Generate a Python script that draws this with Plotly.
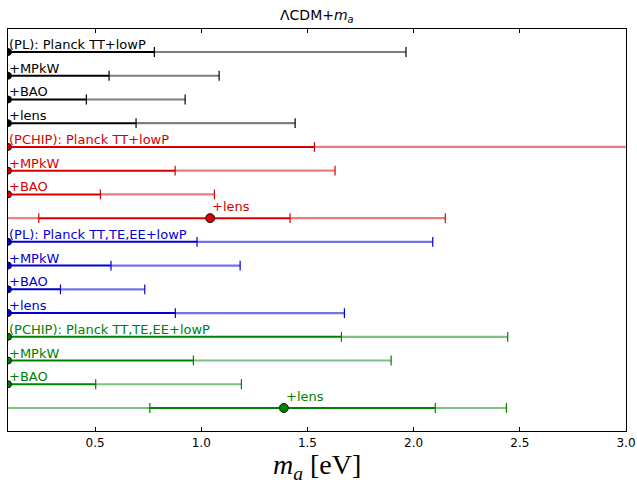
import plotly.graph_objects as go

labels = ["(PL): Planck TT+lowP", "+MPkW", "+BAO", "+lens",
          "(PCHIP): Planck TT+lowP", "+MPkW", "+BAO", "+lens",
          "(PL): Planck TT,TE,EE+lowP", "+MPkW", "+BAO", "+lens",
          "(PCHIP): Planck TT,TE,EE+lowP", "+MPkW", "+BAO", "+lens"]
groups = ["k"] * 4 + ["r"] * 4 + ["b"] * 4 + ["g"] * 4

XMIN = 0.09   # lower prior edge of m_a (eV)
XMAX = 3.0

# best fit / mean (upper-limit rows sit at the prior edge)
best = [0.09, 0.09, 0.09, 0.09,
        0.09, 0.09, 0.09, 1.042,
        0.09, 0.09, 0.09, 0.09,
        0.09, 0.09, 0.09, 1.389]
lo68 = [0.09, 0.09, 0.09, 0.09,
        0.09, 0.09, 0.09, 0.235,
        0.09, 0.09, 0.09, 0.09,
        0.09, 0.09, 0.09, 0.758]
hi68 = [0.779, 0.566, 0.459, 0.693,
        1.533, 0.877, 0.525, 1.418,
        0.980, 0.575, 0.337, 0.878,
        1.660, 0.963, 0.503, 2.102]
lo95 = [0.09] * 16
hi95 = [1.964, 1.084, 0.924, 1.442,
        3.3, 1.630, 1.062, 2.149,
        2.090, 1.183, 0.734, 1.674,
        2.443, 1.894, 1.189, 2.437]
detected = [False] * 7 + [True] + [False] * 7 + [True]

dark = {"k": "rgb(0,0,0)", "r": "rgb(215,0,0)", "b": "rgb(0,0,210)", "g": "rgb(0,128,0)"}
light = {"k": "rgba(0,0,0,0.5)", "r": "rgba(215,0,0,0.5)", "b": "rgba(0,0,210,0.55)", "g": "rgba(0,128,0,0.5)"}

fig = go.Figure()
annotations = []
for i, lab in enumerate(labels):
    y = i + 1
    g = groups[i]
    # 95% (light) segments
    fig.add_trace(go.Scatter(x=[lo95[i], lo68[i], None, hi68[i], hi95[i]],
                             y=[y, y, None, y, y], mode="lines",
                             line=dict(color=light[g], width=2.2),
                             hoverinfo="skip", showlegend=False))
    # 68% (dark) segment
    fig.add_trace(go.Scatter(x=[lo68[i], hi68[i]], y=[y, y], mode="lines",
                             line=dict(color=dark[g], width=2),
                             hoverinfo="skip", showlegend=False))
    # caps
    caps = [hi68[i], hi95[i]]
    if detected[i]:
        caps.append(lo68[i])
    fig.add_trace(go.Scatter(x=caps, y=[y] * len(caps), mode="markers",
                             marker=dict(symbol="line-ns", size=7,
                                         line=dict(color=dark[g], width=1.2)),
                             hoverinfo="skip", showlegend=False))
    # central point
    fig.add_trace(go.Scatter(x=[best[i]], y=[y], mode="markers",
                             marker=dict(symbol="circle", size=9 if detected[i] else 7,
                                         color=dark[g],
                                         line=dict(color="rgb(20,20,20)", width=1)),
                             hoverinfo="skip", showlegend=False))
    annotations.append(dict(x=best[i] if detected[i] else XMIN, y=y,
                            xref="x", yref="y", text=lab, showarrow=False,
                            xanchor="left", yanchor="bottom", borderpad=0,
                            xshift=1 if detected[i] else 0,
                            yshift=3 if detected[i] else -1,
                            font=dict(family="DejaVu Sans", size=13, color=dark[g])))

annotations.append(dict(x=0.5, y=1.0, xref="paper", yref="paper", yanchor="bottom",
                        yshift=2, showarrow=False,
                        text="ΛCDM+<i>m</i><sub><i>a</i></sub>",
                        font=dict(family="DejaVu Sans", size=14, color="black")))
annotations.append(dict(x=0.5, y=0.0, xref="paper", yref="paper", yanchor="top",
                        yshift=-16, showarrow=False,
                        text="<i>m</i><sub><i>a</i></sub> [eV]",
                        font=dict(family="Liberation Serif", size=28, color="black")))

fig.update_layout(
    width=637, height=483,
    margin=dict(l=8, r=11, t=29, b=52),
    paper_bgcolor="white", plot_bgcolor="white",
    annotations=annotations,
    xaxis=dict(range=[XMIN, XMAX], tickvals=[0.5, 1.0, 1.5, 2.0, 2.5, 3.0],
               ticktext=["0.5", "1.0", "1.5", "2.0", "2.5", "3.0"],
               ticks="inside", ticklen=4, tickcolor="black", mirror="ticks",
               showline=True, linecolor="black", linewidth=1.2, showgrid=False,
               zeroline=False, automargin=False,
               tickfont=dict(family="DejaVu Sans", size=12, color="black")),
    yaxis=dict(range=[16.97, 0.03], showticklabels=False, ticks="",
               showline=True, mirror=True, linecolor="black", linewidth=1.2,
               showgrid=False, zeroline=False, automargin=False),
)

fig.write_html("out.html", config={"displayModeBar": False},
               post_script="document.body.style.margin='0';document.body.style.overflow='hidden';")
